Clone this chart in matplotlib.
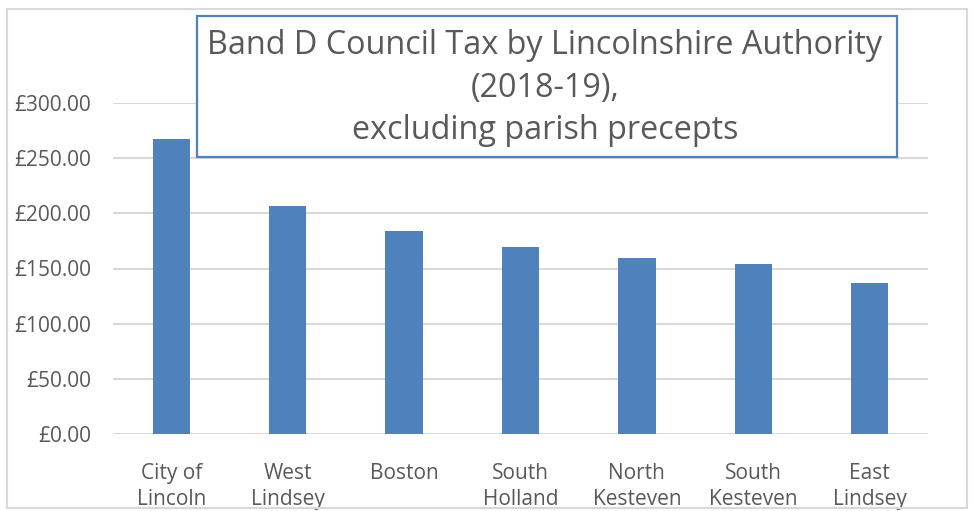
import matplotlib
matplotlib.use("Agg")
import matplotlib.pyplot as plt
from matplotlib.patches import Rectangle
from matplotlib.ticker import FuncFormatter

# Band D council tax, excluding parish precepts
authorities = [
    "City of\nLincoln",
    "West\nLindsey",
    "Boston",
    "South\nHolland",
    "North\nKesteven",
    "South\nKesteven",
    "East\nLindsey",
]
band_d = [267.6, 206.9, 184.3, 169.8, 159.8, 154.4, 137.1]
y_ticks = [0, 50, 100, 150, 200, 250, 300]

BAR_COLOR = "#4F81BD"
GRID_COLOR = "#D9D9D9"
TEXT_COLOR = "#595959"
FONT = "Open Sans"

W, H = 972, 511
fig = plt.figure(figsize=(W / 100, H / 100), dpi=100)
ax = fig.add_axes([113 / W, (H - 434) / H, (928 - 113) / W, (434 - 103) / H])

x = range(len(authorities))
ax.bar(x, band_d, width=0.32, color=BAR_COLOR, zorder=2)

ax.set_xlim(-0.5, len(authorities) - 0.5)
ax.set_ylim(0, 300)
ax.set_yticks(y_ticks)
ax.yaxis.set_major_formatter(FuncFormatter(lambda v, _: f"£{v:,.2f}"))
ax.set_xticks(list(x))
ax.set_xticklabels(authorities, linespacing=1.3)
ax.grid(axis="y", color=GRID_COLOR, linewidth=1.5, zorder=0)
for s in ax.spines.values():
    s.set_visible(False)
ax.tick_params(axis="both", length=0, labelsize=15, labelcolor=TEXT_COLOR)
ax.tick_params(axis="x", pad=21)
ax.tick_params(axis="y", pad=16)
for lab in ax.get_xticklabels() + ax.get_yticklabels():
    lab.set_fontfamily(FONT)

# outer chart border
fig.add_artist(Rectangle((7 / W, 3 / H), (967 - 7) / W, (502 - 3) / H,
                         transform=fig.transFigure, fill=False,
                         edgecolor=GRID_COLOR, linewidth=1.5))

# title box overlapping the plot
fig.add_artist(Rectangle((197 / W, (H - 157) / H), (897 - 197) / W, (157 - 16) / H,
                         transform=fig.transFigure, facecolor="white",
                         edgecolor=BAR_COLOR, linewidth=1.6, zorder=5))
fig.text(545 / W, (H - 88) / H,
         "Band D Council Tax by Lincolnshire Authority\n(2018-19),\nexcluding parish precepts",
         ha="center", va="center", fontsize=23.3, color=TEXT_COLOR,
         family=FONT, linespacing=1.38, zorder=6)

fig.savefig("out.png", dpi=100)
